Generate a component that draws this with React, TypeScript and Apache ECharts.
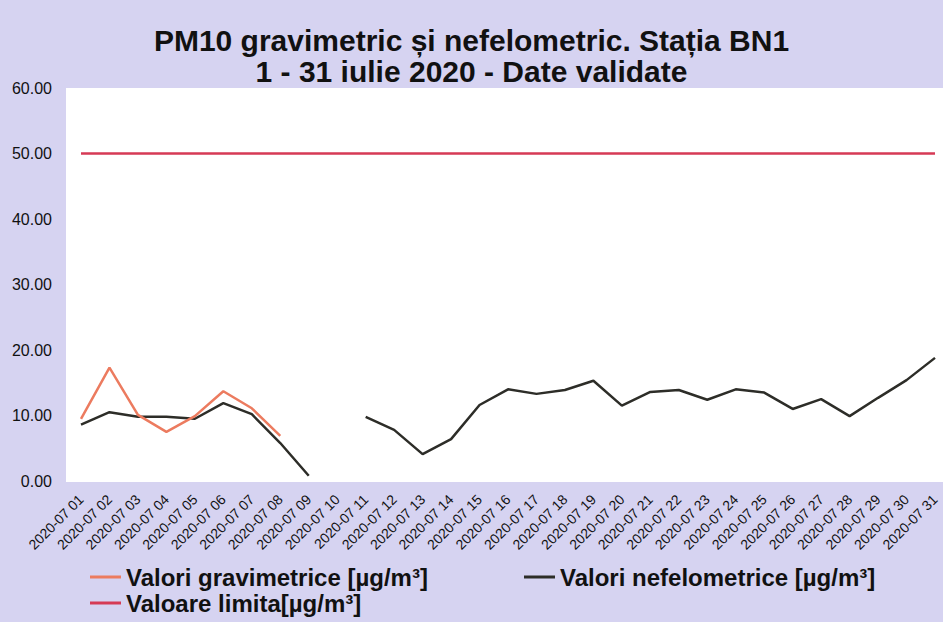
import React, { useEffect, useRef } from "react";
import * as echarts from "echarts";

const categories: string[] = [
  "2020-07 01", "2020-07 02", "2020-07 03", "2020-07 04", "2020-07 05", "2020-07 06",
  "2020-07 07", "2020-07 08", "2020-07 09", "2020-07 10", "2020-07 11", "2020-07 12",
  "2020-07 13", "2020-07 14", "2020-07 15", "2020-07 16", "2020-07 17", "2020-07 18",
  "2020-07 19", "2020-07 20", "2020-07 21", "2020-07 22", "2020-07 23", "2020-07 24",
  "2020-07 25", "2020-07 26", "2020-07 27", "2020-07 28", "2020-07 29", "2020-07 30",
  "2020-07 31",
];

const gravimetric: (number | null)[] = [
  9.5, 17.3, 10.1, 7.5, 9.9, 13.7, 11.1, 6.9,
  null, null, null, null, null, null, null, null, null, null, null, null,
  null, null, null, null, null, null, null, null, null, null, null,
];

const nefelometric: (number | null)[] = [
  8.6, 10.5, 9.8, 9.8, 9.5, 11.9, 10.2, 5.8, 0.8, null,
  9.8, 7.8, 4.1, 6.4, 11.6, 14.0, 13.3, 13.9, 15.3, 11.5,
  13.6, 13.9, 12.4, 14.0, 13.5, 11.0, 12.5, 9.9, 12.7, 15.4, 18.8,
];

const limit: number[] = [
  50, 50, 50, 50, 50, 50, 50, 50, 50, 50, 50, 50, 50, 50, 50, 50,
  50, 50, 50, 50, 50, 50, 50, 50, 50, 50, 50, 50, 50, 50, 50,
];

const NAME_G = "Valori gravimetrice [µg/m³]";
const NAME_N = "Valori nefelometrice [µg/m³]";
const NAME_L = "Valoare limita[µg/m³]";

const FONT = "'Liberation Sans', Arial, Helvetica, sans-serif";

export default function App() {
  const ref = useRef<HTMLDivElement>(null);
  useEffect(() => {
    if (!ref.current) return;
    const chart = echarts.init(ref.current, undefined, { renderer: "svg" });
    const legendText = { fontSize: 24, fontWeight: "bold" as const, color: "#111", fontFamily: FONT };
    const legendCommon = { icon: "rect", itemWidth: 31, itemHeight: 3, padding: 0, textStyle: legendText };
    chart.setOption({
      animation: false,
      backgroundColor: "#D6D3F1",
      title: {
        text: "PM10 gravimetric și nefelometric. Stația BN1\n1 - 31 iulie 2020 - Date validate",
        left: "center",
        top: 20,
        textStyle: { fontSize: 30, fontWeight: "bold", color: "#111", fontFamily: FONT, lineHeight: 31 },
      },
      graphic: [
        { type: "rect", z: -1, shape: { x: 66, y: 88, width: 877, height: 394 }, style: { fill: "#FFFFFF" } },
      ],
      grid: { left: 81, right: 8, top: 88, bottom: 141 },
      legend: [
        { ...legendCommon, data: [NAME_G], left: 90, top: 565 },
        { ...legendCommon, data: [NAME_N], left: 524, top: 565 },
        { ...legendCommon, data: [NAME_L], left: 90, top: 591 },
      ],
      xAxis: {
        type: "category",
        data: categories,
        boundaryGap: false,
        axisLine: { show: false },
        axisTick: { show: false },
        axisLabel: { rotate: 45, interval: 0, margin: 16, fontSize: 14, color: "#111", fontFamily: FONT },
        splitLine: { show: false },
      },
      yAxis: {
        type: "value",
        min: 0,
        max: 60,
        interval: 10,
        axisLine: { show: false },
        axisTick: { show: false },
        splitLine: { show: false },
        axisLabel: {
          margin: 29,
          fontSize: 16,
          color: "#111",
          fontFamily: FONT,
          formatter: (v: number) => v.toFixed(2),
        },
      },
      series: [
        {
          name: NAME_G,
          type: "line",
          data: gravimetric,
          showSymbol: false,
          connectNulls: false,
          lineStyle: { color: "#EC7B5F", width: 2.5 },
          itemStyle: { color: "#EC7B5F" },
          z: 3,
        },
        {
          name: NAME_N,
          type: "line",
          data: nefelometric,
          showSymbol: false,
          connectNulls: false,
          lineStyle: { color: "#2D2D28", width: 2.5 },
          itemStyle: { color: "#2D2D28" },
          z: 2,
        },
        {
          name: NAME_L,
          type: "line",
          data: limit,
          showSymbol: false,
          lineStyle: { color: "#D63A55", width: 2.5 },
          itemStyle: { color: "#D63A55" },
        },
      ],
    });
    return () => chart.dispose();
  }, []);
  return <div ref={ref} style={{ position: "fixed", left: 0, top: 0, width: 943, height: 622 }} />;
}
